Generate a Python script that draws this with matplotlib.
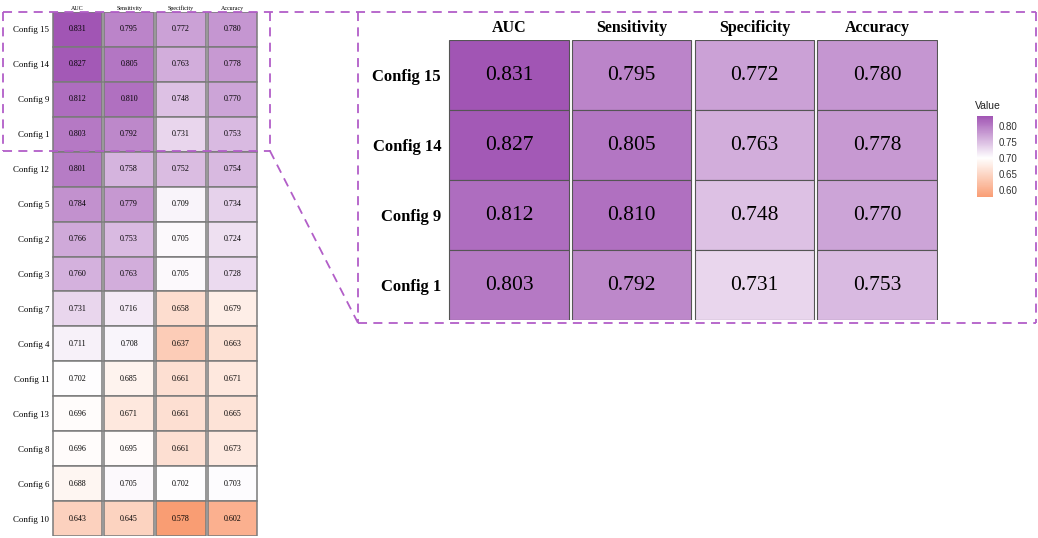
import numpy as np
import matplotlib
matplotlib.use("Agg")
import matplotlib.pyplot as plt
from matplotlib.colors import LinearSegmentedColormap, Normalize
from matplotlib.lines import Line2D
from matplotlib.cm import ScalarMappable

# data, top row first
configs = ["Config 15", "Config 14", "Config 9", "Config 1", "Config 12", "Config 5",
           "Config 2", "Config 3", "Config 7", "Config 4", "Config 11", "Config 13",
           "Config 8", "Config 6", "Config 10"]
metrics = ["AUC", "Sensitivity", "Specificity", "Accuracy"]
auc = [0.831, 0.827, 0.812, 0.803, 0.801, 0.784, 0.766, 0.760, 0.731, 0.711,
       0.702, 0.696, 0.696, 0.688, 0.643]
sensitivity = [0.795, 0.805, 0.810, 0.792, 0.758, 0.779, 0.753, 0.763, 0.716, 0.708,
               0.685, 0.671, 0.695, 0.705, 0.645]
specificity = [0.772, 0.763, 0.748, 0.731, 0.752, 0.709, 0.705, 0.705, 0.658, 0.637,
               0.661, 0.661, 0.661, 0.702, 0.578]
accuracy = [0.780, 0.778, 0.770, 0.753, 0.754, 0.734, 0.724, 0.728, 0.679, 0.663,
            0.671, 0.665, 0.673, 0.703, 0.602]
n_zoom = 4  # rows shown in the enlarged panel

vals = np.array([auc, sensitivity, specificity, accuracy]).T

# diverging scale around 0.70 (like scale_fill_gradient2)
mid = 0.70
half = max(vals.max() - mid, mid - vals.min())
norm = Normalize(vmin=mid - half, vmax=mid + half)
cmap = LinearSegmentedColormap.from_list("pw", ["#F9966A", "#FFFFFF", "#A155B4"])

plt.rcParams['font.family'] = ['Liberation Serif', 'DejaVu Serif']

W, H = 1038, 538
fig = plt.figure(figsize=(W / 100, H / 100), dpi=100)


def fx(px):
    return px / W


def fy(py):
    return 1 - py / H


def heat(ax, data, rows, edge, lw, gap, val_fs, row_fs, col_fs, bold):
    nr, nc = data.shape
    for i in range(nr):
        for j in range(nc):
            ax.bar(j, 1, bottom=nr - 1 - i - 0.5, width=1 - gap,
                   color=cmap(norm(data[i, j])), edgecolor=edge, linewidth=lw)
            ax.text(j, nr - 1 - i, f"{data[i, j]:.3f}", ha="center", va="center",
                    fontsize=val_fs, color="black")
    ax.set_xlim(-0.5 + gap / 2 - 0.01, nc - 0.5 - gap / 2 + 0.01)
    ax.set_ylim(-0.5, nr - 0.5)
    ax.set_yticks(range(nr))
    ax.set_yticklabels(rows[::-1], fontsize=row_fs,
                       fontweight="bold" if bold else "normal")
    ax.set_xticks(range(nc))
    ax.set_xticklabels(metrics, fontsize=col_fs,
                       fontweight="bold" if bold else "normal")
    ax.xaxis.tick_top()
    ax.tick_params(length=0, pad=2)
    for s in ax.spines.values():
        s.set_visible(False)


# full heatmap
ax1 = fig.add_axes([fx(52), fy(536), fx(258) - fx(52), fy(12) - fy(536)])
heat(ax1, vals, configs, "#7a7a7a", 1.1, 0.045, 5.8, 6.4, 4.3, False)
ax1.tick_params(axis="x", pad=1)

# zoomed heatmap
ax2 = fig.add_axes([fx(448), fy(320), fx(938) - fx(448), fy(40) - fy(320)])
heat(ax2, vals[:n_zoom], configs[:n_zoom], "#555555", 0.8, 0.025, 15.5, 12, 11.5, True)
ax2.tick_params(axis="y", pad=5)
ax2.tick_params(axis="x", pad=3)

# colour bar
cax = fig.add_axes([fx(977), fy(197), fx(993) - fx(977), fy(116) - fy(197)])
sm = ScalarMappable(norm=norm, cmap=cmap)
cb = fig.colorbar(sm, cax=cax, boundaries=np.linspace(vals.min(), vals.max(), 256))
cb.outline.set_visible(False)
cb.set_ticks([0.60, 0.65, 0.70, 0.75, 0.80])
cb.ax.tick_params(length=0, labelsize=7, colors="#333333", pad=4)
for t in cb.ax.get_yticklabels():
    t.set_fontfamily(['Liberation Sans', 'DejaVu Sans'])
fig.text(fx(975), fy(106), "Value", fontsize=7.5, family=['Liberation Sans', 'DejaVu Sans'],
         ha="left", va="center", color="#222222")

# dashed zoom boxes
dash = dict(color="#B25EC8", linewidth=1.3, linestyle=(0, (5, 3.5)))
segs = [
    ((3, 12), (1036, 12)),
    ((3, 12), (3, 151)),
    ((3, 151), (270, 151)),
    ((270, 12), (270, 151)),
    ((270, 151), (358, 323)),
    ((358, 12), (358, 323)),
    ((358, 323), (1036, 323)),
    ((1036, 12), (1036, 323)),
]
for (x0, y0), (x1, y1) in segs:
    fig.add_artist(Line2D([fx(x0), fx(x1)], [fy(y0), fy(y1)],
                          transform=fig.transFigure, **dash))

fig.savefig("out.png", dpi=100)
